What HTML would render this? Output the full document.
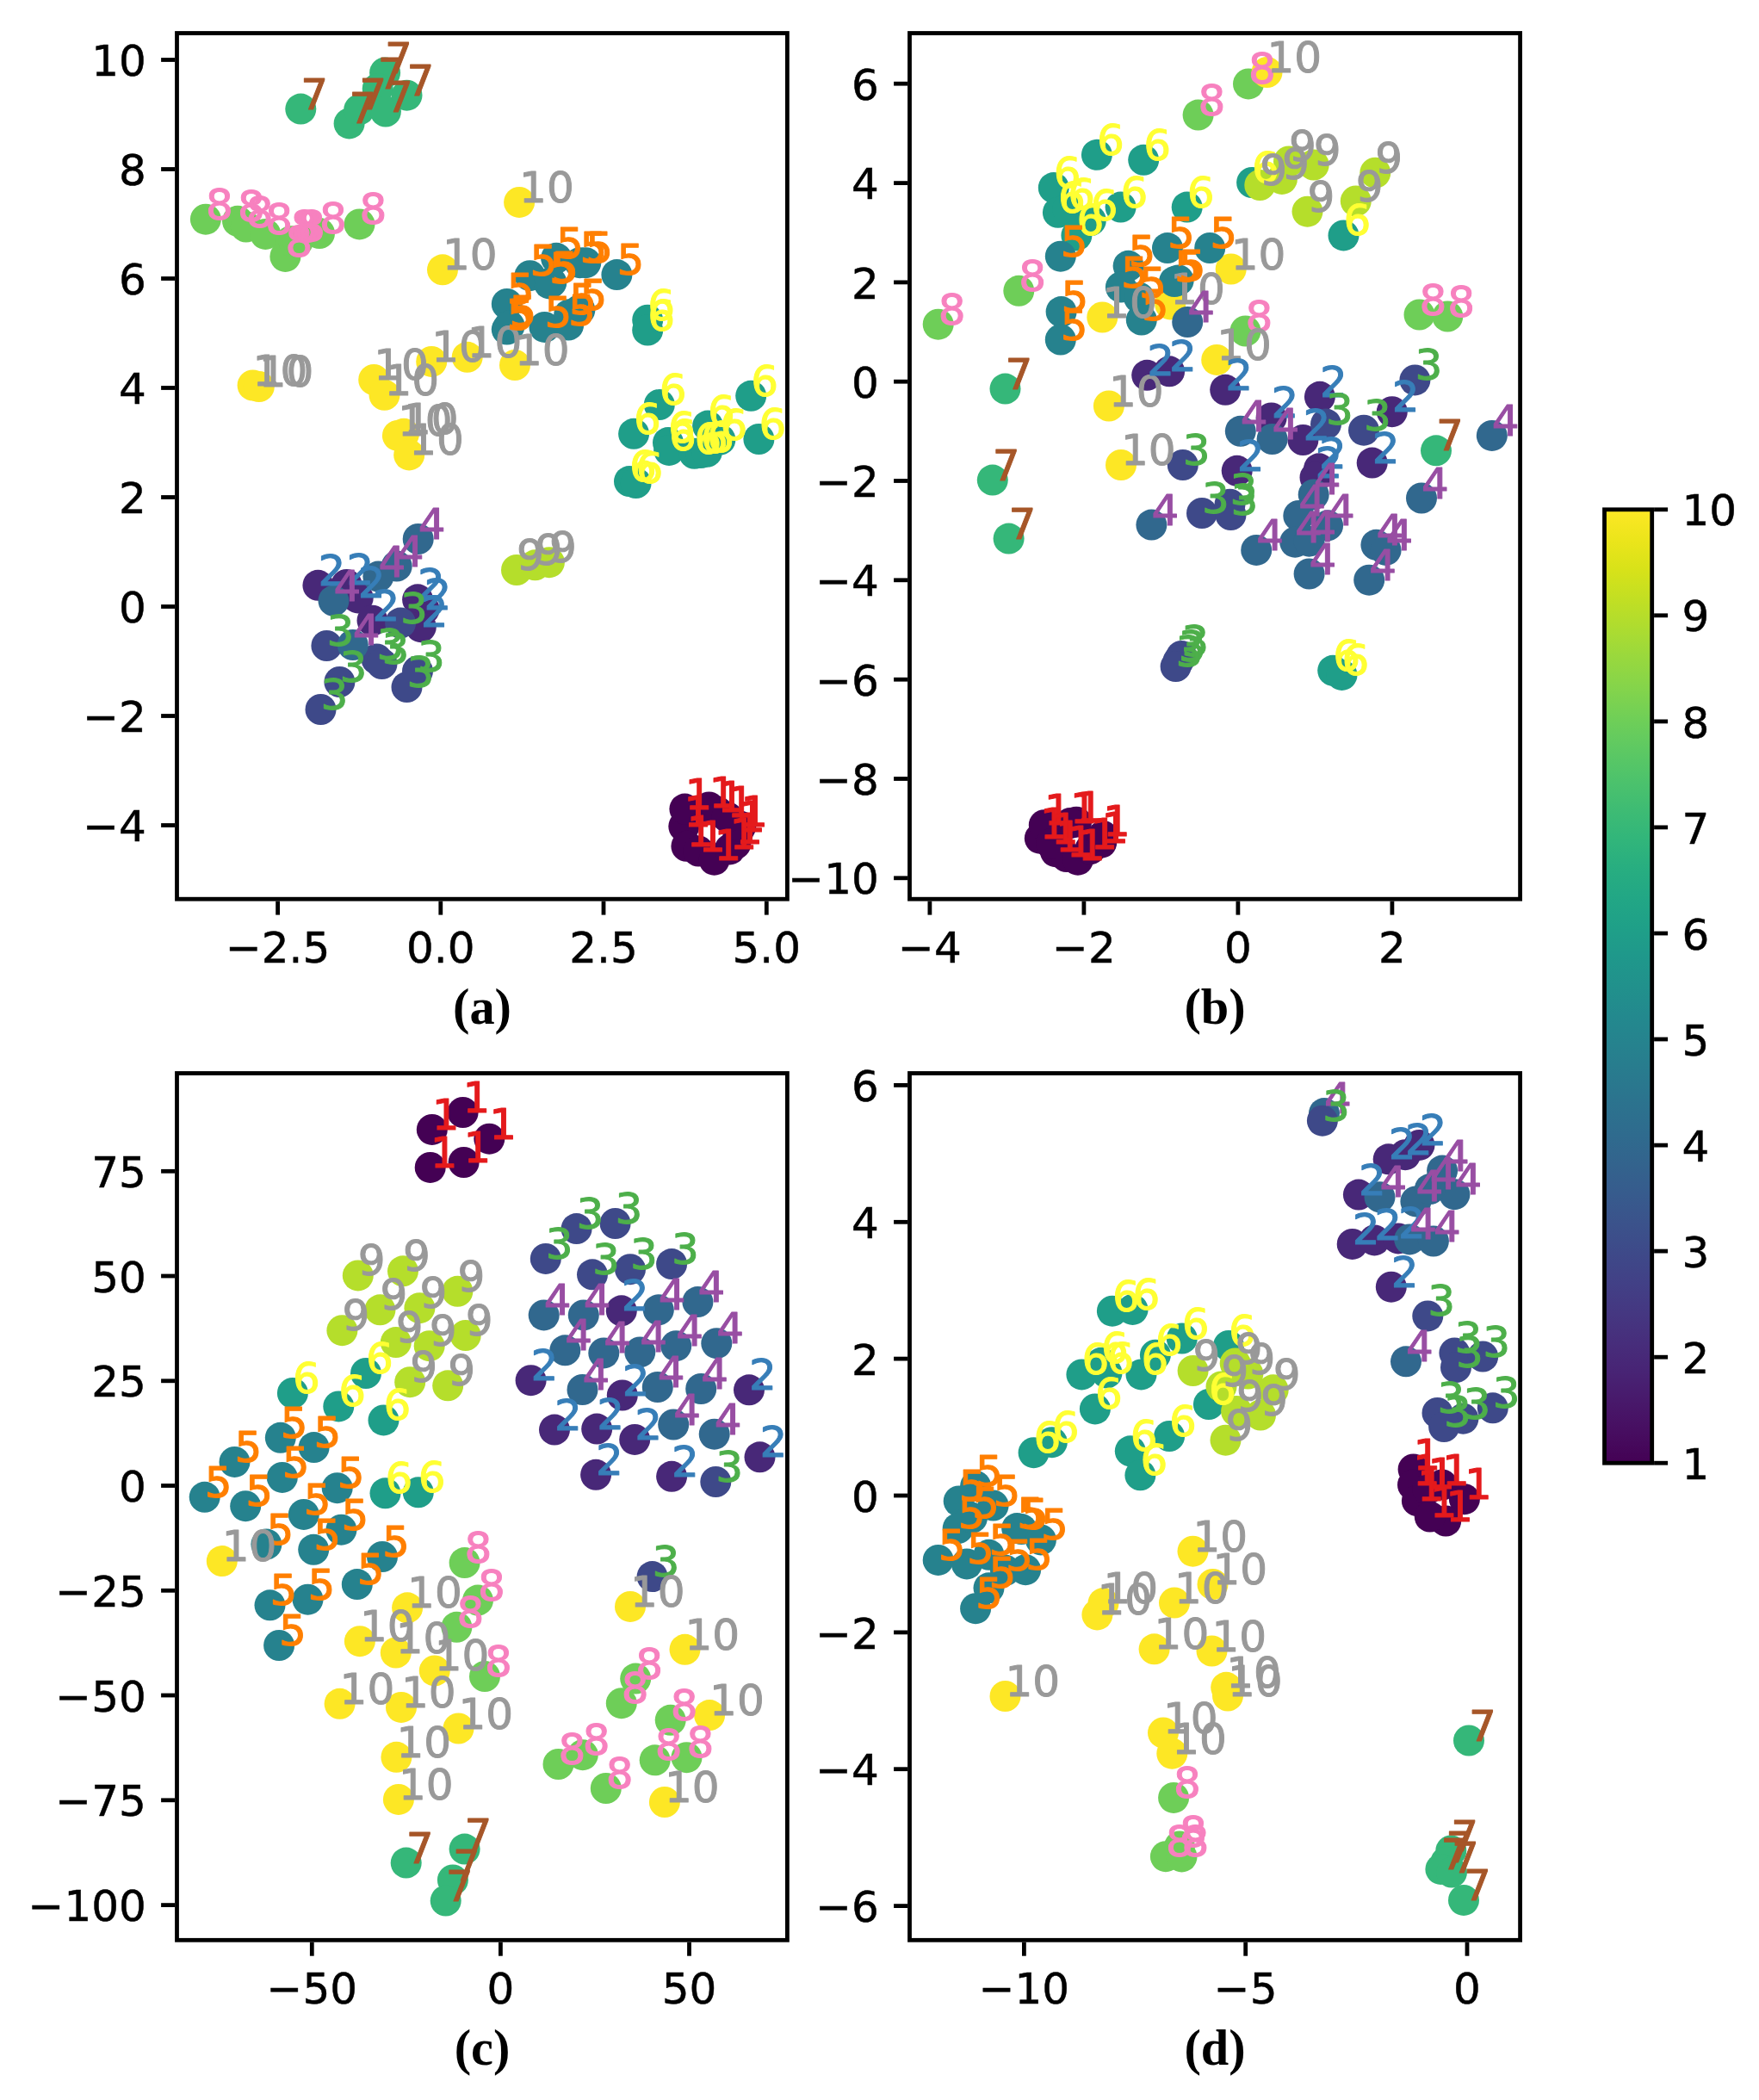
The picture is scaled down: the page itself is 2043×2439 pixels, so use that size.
<!DOCTYPE html>
<html><head><meta charset="utf-8"><title>t-SNE scatter panels</title>
<style>html,body{margin:0;padding:0;background:#fff}svg{display:block}</style></head><body>
<svg width="2043" height="2439" viewBox="0 0 2043 2439">
<rect width="2043" height="2439" fill="#fff"/>
<defs><linearGradient id="vg" x1="0" y1="0" x2="0" y2="1"><stop offset="0.0000" stop-color="#fde725"/><stop offset="0.0312" stop-color="#ece51b"/><stop offset="0.0625" stop-color="#d8e219"/><stop offset="0.0938" stop-color="#c2df23"/><stop offset="0.1250" stop-color="#addc30"/><stop offset="0.1562" stop-color="#98d83e"/><stop offset="0.1875" stop-color="#84d44b"/><stop offset="0.2188" stop-color="#70cf57"/><stop offset="0.2500" stop-color="#5ec962"/><stop offset="0.2812" stop-color="#4ec36b"/><stop offset="0.3125" stop-color="#3fbc73"/><stop offset="0.3438" stop-color="#32b67a"/><stop offset="0.3750" stop-color="#28ae80"/><stop offset="0.4062" stop-color="#22a785"/><stop offset="0.4375" stop-color="#1fa088"/><stop offset="0.4688" stop-color="#1f988b"/><stop offset="0.5000" stop-color="#21918c"/><stop offset="0.5312" stop-color="#23898e"/><stop offset="0.5625" stop-color="#26828e"/><stop offset="0.5938" stop-color="#297a8e"/><stop offset="0.6250" stop-color="#2c728e"/><stop offset="0.6562" stop-color="#2f6b8e"/><stop offset="0.6875" stop-color="#33638d"/><stop offset="0.7188" stop-color="#375b8d"/><stop offset="0.7500" stop-color="#3b528b"/><stop offset="0.7812" stop-color="#3e4989"/><stop offset="0.8125" stop-color="#424086"/><stop offset="0.8438" stop-color="#453781"/><stop offset="0.8750" stop-color="#472d7b"/><stop offset="0.9062" stop-color="#482374"/><stop offset="0.9375" stop-color="#48186a"/><stop offset="0.9688" stop-color="#470d60"/><stop offset="1.0000" stop-color="#440154"/></linearGradient></defs>
<g>
<circle cx="349.3" cy="126.6" r="18" fill="#35b779"/>
<circle cx="405.6" cy="143.4" r="18" fill="#35b779"/>
<circle cx="417.2" cy="127.4" r="18" fill="#35b779"/>
<circle cx="447.1" cy="84.5" r="18" fill="#35b779"/>
<circle cx="438.7" cy="102.9" r="18" fill="#35b779"/>
<circle cx="447.9" cy="129.5" r="18" fill="#35b779"/>
<circle cx="472.5" cy="110.7" r="18" fill="#35b779"/>
<circle cx="238.9" cy="254.7" r="18" fill="#6ece58"/>
<circle cx="276" cy="256.8" r="18" fill="#6ece58"/>
<circle cx="285.8" cy="263.5" r="18" fill="#6ece58"/>
<circle cx="308.3" cy="271.9" r="18" fill="#6ece58"/>
<circle cx="331.4" cy="297.9" r="18" fill="#6ece58"/>
<circle cx="337.8" cy="280.2" r="18" fill="#6ece58"/>
<circle cx="341.5" cy="280.5" r="18" fill="#6ece58"/>
<circle cx="346" cy="280.2" r="18" fill="#6ece58"/>
<circle cx="371" cy="271" r="18" fill="#6ece58"/>
<circle cx="417.5" cy="260.4" r="18" fill="#6ece58"/>
<circle cx="514" cy="313.3" r="18" fill="#fde725"/>
<circle cx="603.1" cy="234.9" r="18" fill="#fde725"/>
<circle cx="293.6" cy="447.5" r="18" fill="#fde725"/>
<circle cx="300.8" cy="449" r="18" fill="#fde725"/>
<circle cx="434.2" cy="441" r="18" fill="#fde725"/>
<circle cx="446.5" cy="458.8" r="18" fill="#fde725"/>
<circle cx="501.2" cy="419.9" r="18" fill="#fde725"/>
<circle cx="542.7" cy="414.8" r="18" fill="#fde725"/>
<circle cx="461.9" cy="505.9" r="18" fill="#fde725"/>
<circle cx="469" cy="503.8" r="18" fill="#fde725"/>
<circle cx="475.2" cy="528.4" r="18" fill="#fde725"/>
<circle cx="598" cy="424" r="18" fill="#fde725"/>
<circle cx="716.4" cy="319.1" r="18" fill="#26828e"/>
<circle cx="673.4" cy="305.2" r="18" fill="#26828e"/>
<circle cx="680.3" cy="305.2" r="18" fill="#26828e"/>
<circle cx="646.1" cy="299.8" r="18" fill="#26828e"/>
<circle cx="615.4" cy="320.2" r="18" fill="#26828e"/>
<circle cx="638" cy="329.4" r="18" fill="#26828e"/>
<circle cx="640.3" cy="328" r="18" fill="#26828e"/>
<circle cx="588.8" cy="353" r="18" fill="#26828e"/>
<circle cx="588.8" cy="382.6" r="18" fill="#26828e"/>
<circle cx="591.6" cy="378.5" r="18" fill="#26828e"/>
<circle cx="632.5" cy="379.9" r="18" fill="#26828e"/>
<circle cx="661.2" cy="365.3" r="18" fill="#26828e"/>
<circle cx="660.1" cy="377.5" r="18" fill="#26828e"/>
<circle cx="673.4" cy="359.8" r="18" fill="#26828e"/>
<circle cx="752.2" cy="371.7" r="18" fill="#1f9e89"/>
<circle cx="752.2" cy="383.5" r="18" fill="#1f9e89"/>
<circle cx="765.8" cy="470" r="18" fill="#1f9e89"/>
<circle cx="736.1" cy="503.8" r="18" fill="#1f9e89"/>
<circle cx="872.2" cy="459.8" r="18" fill="#1f9e89"/>
<circle cx="881.4" cy="510" r="18" fill="#1f9e89"/>
<circle cx="731" cy="559.1" r="18" fill="#1f9e89"/>
<circle cx="738.6" cy="561.1" r="18" fill="#1f9e89"/>
<circle cx="776" cy="514.1" r="18" fill="#1f9e89"/>
<circle cx="777.1" cy="522.9" r="18" fill="#1f9e89"/>
<circle cx="822.1" cy="494.6" r="18" fill="#1f9e89"/>
<circle cx="806.5" cy="526.8" r="18" fill="#1f9e89"/>
<circle cx="814" cy="526" r="18" fill="#1f9e89"/>
<circle cx="821" cy="524.8" r="18" fill="#1f9e89"/>
<circle cx="836.4" cy="510.6" r="18" fill="#1f9e89"/>
<circle cx="600" cy="662" r="18" fill="#b5de2b"/>
<circle cx="621.5" cy="656.3" r="18" fill="#b5de2b"/>
<circle cx="637.9" cy="653.2" r="18" fill="#b5de2b"/>
<circle cx="369.4" cy="679.8" r="18" fill="#482878"/>
<circle cx="402.5" cy="679" r="18" fill="#482878"/>
<circle cx="415.7" cy="694.4" r="18" fill="#482878"/>
<circle cx="432.5" cy="720.7" r="18" fill="#482878"/>
<circle cx="485.1" cy="696.3" r="18" fill="#482878"/>
<circle cx="492.6" cy="707.6" r="18" fill="#482878"/>
<circle cx="488.8" cy="728.2" r="18" fill="#482878"/>
<circle cx="465.1" cy="723.6" r="18" fill="#3e4989"/>
<circle cx="379.4" cy="750" r="18" fill="#3e4989"/>
<circle cx="437.5" cy="765.5" r="18" fill="#3e4989"/>
<circle cx="443.5" cy="771" r="18" fill="#3e4989"/>
<circle cx="394.4" cy="792" r="18" fill="#3e4989"/>
<circle cx="372.5" cy="824" r="18" fill="#3e4989"/>
<circle cx="472.5" cy="798.1" r="18" fill="#3e4989"/>
<circle cx="485" cy="779.5" r="18" fill="#3e4989"/>
<circle cx="485.7" cy="626" r="18" fill="#31688e"/>
<circle cx="460.7" cy="657.5" r="18" fill="#31688e"/>
<circle cx="439.4" cy="669.6" r="18" fill="#31688e"/>
<circle cx="387.5" cy="697.8" r="18" fill="#31688e"/>
<circle cx="409.8" cy="749" r="18" fill="#31688e"/>
<circle cx="794.3" cy="959.8" r="18" fill="#440154"/>
<circle cx="797.4" cy="982.8" r="18" fill="#440154"/>
<circle cx="811.2" cy="988.5" r="18" fill="#440154"/>
<circle cx="829.6" cy="998.7" r="18" fill="#440154"/>
<circle cx="847.6" cy="986.4" r="18" fill="#440154"/>
<circle cx="854.2" cy="980.3" r="18" fill="#440154"/>
<circle cx="857.3" cy="966" r="18" fill="#440154"/>
<circle cx="860.3" cy="959.8" r="18" fill="#440154"/>
<circle cx="795.4" cy="939.6" r="18" fill="#440154"/>
<circle cx="823.5" cy="937.5" r="18" fill="#440154"/>
<circle cx="833.2" cy="942.6" r="18" fill="#440154"/>
<circle cx="844.5" cy="948.8" r="18" fill="#440154"/>
</g>
<g font-family='"DejaVu Sans", "Liberation Sans", sans-serif' font-size="50" stroke-width="1" stroke-linejoin="round">
<text x="349.3" y="126.6" fill="#a65628" stroke="#a65628">7</text>
<text x="405.6" y="143.4" fill="#a65628" stroke="#a65628">7</text>
<text x="417.2" y="127.4" fill="#a65628" stroke="#a65628">7</text>
<text x="447.1" y="84.5" fill="#a65628" stroke="#a65628">7</text>
<text x="438.7" y="102.9" fill="#a65628" stroke="#a65628">7</text>
<text x="447.9" y="129.5" fill="#a65628" stroke="#a65628">7</text>
<text x="472.5" y="110.7" fill="#a65628" stroke="#a65628">7</text>
<text x="238.9" y="254.7" fill="#f781bf" stroke="#f781bf">8</text>
<text x="276" y="256.8" fill="#f781bf" stroke="#f781bf">8</text>
<text x="285.8" y="263.5" fill="#f781bf" stroke="#f781bf">8</text>
<text x="308.3" y="271.9" fill="#f781bf" stroke="#f781bf">8</text>
<text x="331.4" y="297.9" fill="#f781bf" stroke="#f781bf">8</text>
<text x="337.8" y="280.2" fill="#f781bf" stroke="#f781bf">8</text>
<text x="341.5" y="280.5" fill="#f781bf" stroke="#f781bf">8</text>
<text x="346" y="280.2" fill="#f781bf" stroke="#f781bf">8</text>
<text x="371" y="271" fill="#f781bf" stroke="#f781bf">8</text>
<text x="417.5" y="260.4" fill="#f781bf" stroke="#f781bf">8</text>
<text x="514" y="313.3" fill="#999999" stroke="#999999">10</text>
<text x="603.1" y="234.9" fill="#999999" stroke="#999999">10</text>
<text x="293.6" y="447.5" fill="#999999" stroke="#999999">10</text>
<text x="300.8" y="449" fill="#999999" stroke="#999999">10</text>
<text x="434.2" y="441" fill="#999999" stroke="#999999">10</text>
<text x="446.5" y="458.8" fill="#999999" stroke="#999999">10</text>
<text x="501.2" y="419.9" fill="#999999" stroke="#999999">10</text>
<text x="542.7" y="414.8" fill="#999999" stroke="#999999">10</text>
<text x="461.9" y="505.9" fill="#999999" stroke="#999999">10</text>
<text x="469" y="503.8" fill="#999999" stroke="#999999">10</text>
<text x="475.2" y="528.4" fill="#999999" stroke="#999999">10</text>
<text x="598" y="424" fill="#999999" stroke="#999999">10</text>
<text x="716.4" y="319.1" fill="#ff7f00" stroke="#ff7f00">5</text>
<text x="673.4" y="305.2" fill="#ff7f00" stroke="#ff7f00">5</text>
<text x="680.3" y="305.2" fill="#ff7f00" stroke="#ff7f00">5</text>
<text x="646.1" y="299.8" fill="#ff7f00" stroke="#ff7f00">5</text>
<text x="615.4" y="320.2" fill="#ff7f00" stroke="#ff7f00">5</text>
<text x="638" y="329.4" fill="#ff7f00" stroke="#ff7f00">5</text>
<text x="640.3" y="328" fill="#ff7f00" stroke="#ff7f00">5</text>
<text x="588.8" y="353" fill="#ff7f00" stroke="#ff7f00">5</text>
<text x="588.8" y="382.6" fill="#ff7f00" stroke="#ff7f00">5</text>
<text x="591.6" y="378.5" fill="#ff7f00" stroke="#ff7f00">5</text>
<text x="632.5" y="379.9" fill="#ff7f00" stroke="#ff7f00">5</text>
<text x="661.2" y="365.3" fill="#ff7f00" stroke="#ff7f00">5</text>
<text x="660.1" y="377.5" fill="#ff7f00" stroke="#ff7f00">5</text>
<text x="673.4" y="359.8" fill="#ff7f00" stroke="#ff7f00">5</text>
<text x="752.2" y="371.7" fill="#ffff33" stroke="#ffff33">6</text>
<text x="752.2" y="383.5" fill="#ffff33" stroke="#ffff33">6</text>
<text x="765.8" y="470" fill="#ffff33" stroke="#ffff33">6</text>
<text x="736.1" y="503.8" fill="#ffff33" stroke="#ffff33">6</text>
<text x="872.2" y="459.8" fill="#ffff33" stroke="#ffff33">6</text>
<text x="881.4" y="510" fill="#ffff33" stroke="#ffff33">6</text>
<text x="731" y="559.1" fill="#ffff33" stroke="#ffff33">6</text>
<text x="738.6" y="561.1" fill="#ffff33" stroke="#ffff33">6</text>
<text x="776" y="514.1" fill="#ffff33" stroke="#ffff33">6</text>
<text x="777.1" y="522.9" fill="#ffff33" stroke="#ffff33">6</text>
<text x="822.1" y="494.6" fill="#ffff33" stroke="#ffff33">6</text>
<text x="806.5" y="526.8" fill="#ffff33" stroke="#ffff33">6</text>
<text x="814" y="526" fill="#ffff33" stroke="#ffff33">6</text>
<text x="821" y="524.8" fill="#ffff33" stroke="#ffff33">6</text>
<text x="836.4" y="510.6" fill="#ffff33" stroke="#ffff33">6</text>
<text x="600" y="662" fill="#999999" stroke="#999999">9</text>
<text x="621.5" y="656.3" fill="#999999" stroke="#999999">9</text>
<text x="637.9" y="653.2" fill="#999999" stroke="#999999">9</text>
<text x="369.4" y="679.8" fill="#377eb8" stroke="#377eb8">2</text>
<text x="402.5" y="679" fill="#377eb8" stroke="#377eb8">2</text>
<text x="415.7" y="694.4" fill="#377eb8" stroke="#377eb8">2</text>
<text x="432.5" y="720.7" fill="#377eb8" stroke="#377eb8">2</text>
<text x="485.1" y="696.3" fill="#377eb8" stroke="#377eb8">2</text>
<text x="492.6" y="707.6" fill="#377eb8" stroke="#377eb8">2</text>
<text x="488.8" y="728.2" fill="#377eb8" stroke="#377eb8">2</text>
<text x="465.1" y="723.6" fill="#4daf4a" stroke="#4daf4a">3</text>
<text x="379.4" y="750" fill="#4daf4a" stroke="#4daf4a">3</text>
<text x="437.5" y="765.5" fill="#4daf4a" stroke="#4daf4a">3</text>
<text x="443.5" y="771" fill="#4daf4a" stroke="#4daf4a">3</text>
<text x="394.4" y="792" fill="#4daf4a" stroke="#4daf4a">3</text>
<text x="372.5" y="824" fill="#4daf4a" stroke="#4daf4a">3</text>
<text x="472.5" y="798.1" fill="#4daf4a" stroke="#4daf4a">3</text>
<text x="485" y="779.5" fill="#4daf4a" stroke="#4daf4a">3</text>
<text x="485.7" y="626" fill="#984ea3" stroke="#984ea3">4</text>
<text x="460.7" y="657.5" fill="#984ea3" stroke="#984ea3">4</text>
<text x="439.4" y="669.6" fill="#984ea3" stroke="#984ea3">4</text>
<text x="387.5" y="697.8" fill="#984ea3" stroke="#984ea3">4</text>
<text x="409.8" y="749" fill="#984ea3" stroke="#984ea3">4</text>
<text x="794.3" y="959.8" fill="#e41a1c" stroke="#e41a1c">1</text>
<text x="797.4" y="982.8" fill="#e41a1c" stroke="#e41a1c">1</text>
<text x="811.2" y="988.5" fill="#e41a1c" stroke="#e41a1c">1</text>
<text x="829.6" y="998.7" fill="#e41a1c" stroke="#e41a1c">1</text>
<text x="847.6" y="986.4" fill="#e41a1c" stroke="#e41a1c">1</text>
<text x="854.2" y="980.3" fill="#e41a1c" stroke="#e41a1c">1</text>
<text x="857.3" y="966" fill="#e41a1c" stroke="#e41a1c">1</text>
<text x="860.3" y="959.8" fill="#e41a1c" stroke="#e41a1c">1</text>
<text x="795.4" y="939.6" fill="#e41a1c" stroke="#e41a1c">1</text>
<text x="823.5" y="937.5" fill="#e41a1c" stroke="#e41a1c">1</text>
<text x="833.2" y="942.6" fill="#e41a1c" stroke="#e41a1c">1</text>
<text x="844.5" y="948.8" fill="#e41a1c" stroke="#e41a1c">1</text>
</g>
<rect x="205.5" y="38.5" width="708.9" height="1005.7" fill="none" stroke="#000" stroke-width="4.8"/>
<g stroke="#000" stroke-width="4.8">
<line x1="322.6" y1="1046.6" x2="322.6" y2="1062.6"/>
<line x1="511.8" y1="1046.6" x2="511.8" y2="1062.6"/>
<line x1="701" y1="1046.6" x2="701" y2="1062.6"/>
<line x1="890.3" y1="1046.6" x2="890.3" y2="1062.6"/>
<line x1="187.1" y1="69.5" x2="203.1" y2="69.5"/>
<line x1="187.1" y1="196.5" x2="203.1" y2="196.5"/>
<line x1="187.1" y1="323.5" x2="203.1" y2="323.5"/>
<line x1="187.1" y1="450.5" x2="203.1" y2="450.5"/>
<line x1="187.1" y1="577.5" x2="203.1" y2="577.5"/>
<line x1="187.1" y1="704.5" x2="203.1" y2="704.5"/>
<line x1="187.1" y1="831.5" x2="203.1" y2="831.5"/>
<line x1="187.1" y1="958.5" x2="203.1" y2="958.5"/>
</g>
<g font-family='"DejaVu Sans", "Liberation Sans", sans-serif' font-size="50" fill="#000" stroke="#000" stroke-width="0.5">
<text x="322.6" y="1117.5" text-anchor="middle">−2.5</text>
<text x="511.8" y="1117.5" text-anchor="middle">0.0</text>
<text x="701" y="1117.5" text-anchor="middle">2.5</text>
<text x="890.3" y="1117.5" text-anchor="middle">5.0</text>
<text x="169.9" y="88.1" text-anchor="end">10</text>
<text x="169.9" y="215.1" text-anchor="end">8</text>
<text x="169.9" y="342.1" text-anchor="end">6</text>
<text x="169.9" y="469.1" text-anchor="end">4</text>
<text x="169.9" y="596.1" text-anchor="end">2</text>
<text x="169.9" y="723.1" text-anchor="end">0</text>
<text x="169.9" y="850.1" text-anchor="end">−2</text>
<text x="169.9" y="977.1" text-anchor="end">−4</text>
</g>
<text x="560" y="1188.5" text-anchor="middle" font-family='"Liberation Serif", "DejaVu Serif", serif' font-weight="bold" font-size="58.3">(a)</text>
<g>
<circle cx="1454.1" cy="212" r="18" fill="#1f9e89"/>
<circle cx="1560.5" cy="273.4" r="18" fill="#1f9e89"/>
<circle cx="1273.9" cy="179.8" r="18" fill="#1f9e89"/>
<circle cx="1328.2" cy="185.8" r="18" fill="#1f9e89"/>
<circle cx="1223.8" cy="218.1" r="18" fill="#1f9e89"/>
<circle cx="1228.9" cy="246.8" r="18" fill="#1f9e89"/>
<circle cx="1240.2" cy="242.7" r="18" fill="#1f9e89"/>
<circle cx="1266.8" cy="256" r="18" fill="#1f9e89"/>
<circle cx="1250.4" cy="273.4" r="18" fill="#1f9e89"/>
<circle cx="1301.6" cy="240.6" r="18" fill="#1f9e89"/>
<circle cx="1378.7" cy="240.6" r="18" fill="#1f9e89"/>
<circle cx="1548.2" cy="778.8" r="18" fill="#1f9e89"/>
<circle cx="1558.5" cy="783.9" r="18" fill="#1f9e89"/>
<circle cx="1089.7" cy="376.7" r="18" fill="#6ece58"/>
<circle cx="1183.3" cy="337.8" r="18" fill="#6ece58"/>
<circle cx="1391.6" cy="133.6" r="18" fill="#6ece58"/>
<circle cx="1450" cy="97.4" r="18" fill="#6ece58"/>
<circle cx="1648.5" cy="365.5" r="18" fill="#6ece58"/>
<circle cx="1681.3" cy="367.5" r="18" fill="#6ece58"/>
<circle cx="1446.5" cy="384.5" r="18" fill="#6ece58"/>
<circle cx="1471.5" cy="84" r="18" fill="#fde725"/>
<circle cx="1280.3" cy="368.5" r="18" fill="#fde725"/>
<circle cx="1359.2" cy="353.4" r="18" fill="#fde725"/>
<circle cx="1429.7" cy="312.5" r="18" fill="#fde725"/>
<circle cx="1413.2" cy="417.9" r="18" fill="#fde725"/>
<circle cx="1287.9" cy="471.5" r="18" fill="#fde725"/>
<circle cx="1302" cy="540" r="18" fill="#fde725"/>
<circle cx="1463.3" cy="215" r="18" fill="#b5de2b"/>
<circle cx="1488.9" cy="207.9" r="18" fill="#b5de2b"/>
<circle cx="1497" cy="187.4" r="18" fill="#b5de2b"/>
<circle cx="1525.7" cy="191.5" r="18" fill="#b5de2b"/>
<circle cx="1518.5" cy="245.7" r="18" fill="#b5de2b"/>
<circle cx="1574.8" cy="233.5" r="18" fill="#b5de2b"/>
<circle cx="1597.3" cy="200.7" r="18" fill="#b5de2b"/>
<circle cx="1231.8" cy="297.7" r="18" fill="#26828e"/>
<circle cx="1232.6" cy="362.1" r="18" fill="#26828e"/>
<circle cx="1231.8" cy="394.5" r="18" fill="#26828e"/>
<circle cx="1310.6" cy="308.8" r="18" fill="#26828e"/>
<circle cx="1301.9" cy="333.5" r="18" fill="#26828e"/>
<circle cx="1356" cy="288.1" r="18" fill="#26828e"/>
<circle cx="1405.2" cy="288" r="18" fill="#26828e"/>
<circle cx="1364" cy="327.1" r="18" fill="#26828e"/>
<circle cx="1368.7" cy="325.5" r="18" fill="#26828e"/>
<circle cx="1323" cy="345.7" r="18" fill="#26828e"/>
<circle cx="1325.8" cy="371.5" r="18" fill="#26828e"/>
<circle cx="1379.2" cy="374" r="18" fill="#31688e"/>
<circle cx="1167.5" cy="451.6" r="18" fill="#35b779"/>
<circle cx="1152.8" cy="557.6" r="18" fill="#35b779"/>
<circle cx="1171.6" cy="625.6" r="18" fill="#35b779"/>
<circle cx="1668" cy="523.3" r="18" fill="#35b779"/>
<circle cx="1332.2" cy="435.8" r="18" fill="#482878"/>
<circle cx="1358.1" cy="431.3" r="18" fill="#482878"/>
<circle cx="1423.2" cy="452.8" r="18" fill="#482878"/>
<circle cx="1476.6" cy="485.4" r="18" fill="#482878"/>
<circle cx="1532.9" cy="460.8" r="18" fill="#482878"/>
<circle cx="1513.4" cy="511" r="18" fill="#482878"/>
<circle cx="1616.8" cy="478.2" r="18" fill="#482878"/>
<circle cx="1436.7" cy="546.8" r="18" fill="#482878"/>
<circle cx="1532" cy="544.3" r="18" fill="#482878"/>
<circle cx="1527.5" cy="554.5" r="18" fill="#482878"/>
<circle cx="1593.7" cy="537.6" r="18" fill="#482878"/>
<circle cx="1373.8" cy="540" r="18" fill="#3e4989"/>
<circle cx="1396" cy="596" r="18" fill="#3e4989"/>
<circle cx="1643.4" cy="441.4" r="18" fill="#3e4989"/>
<circle cx="1540" cy="492.6" r="18" fill="#3e4989"/>
<circle cx="1584" cy="499.7" r="18" fill="#3e4989"/>
<circle cx="1428.5" cy="585.7" r="18" fill="#3e4989"/>
<circle cx="1429.5" cy="598" r="18" fill="#3e4989"/>
<circle cx="1372.2" cy="762" r="18" fill="#3e4989"/>
<circle cx="1368.7" cy="767.5" r="18" fill="#3e4989"/>
<circle cx="1365.6" cy="774.1" r="18" fill="#3e4989"/>
<circle cx="1337.4" cy="609.6" r="18" fill="#31688e"/>
<circle cx="1440.8" cy="500.8" r="18" fill="#31688e"/>
<circle cx="1477.6" cy="510" r="18" fill="#31688e"/>
<circle cx="1732.8" cy="505.9" r="18" fill="#31688e"/>
<circle cx="1651" cy="578.5" r="18" fill="#31688e"/>
<circle cx="1525.7" cy="574.4" r="18" fill="#31688e"/>
<circle cx="1508.3" cy="599" r="18" fill="#31688e"/>
<circle cx="1542.1" cy="610.3" r="18" fill="#31688e"/>
<circle cx="1504.2" cy="629.7" r="18" fill="#31688e"/>
<circle cx="1520.6" cy="628.7" r="18" fill="#31688e"/>
<circle cx="1459.2" cy="638.9" r="18" fill="#31688e"/>
<circle cx="1520.6" cy="666.5" r="18" fill="#31688e"/>
<circle cx="1598.4" cy="632.8" r="18" fill="#31688e"/>
<circle cx="1609.6" cy="638.9" r="18" fill="#31688e"/>
<circle cx="1590.2" cy="673.7" r="18" fill="#31688e"/>
<circle cx="1207.8" cy="973.7" r="18" fill="#440154"/>
<circle cx="1212.8" cy="958.2" r="18" fill="#440154"/>
<circle cx="1226" cy="989.2" r="18" fill="#440154"/>
<circle cx="1238.7" cy="995.1" r="18" fill="#440154"/>
<circle cx="1251.9" cy="998.7" r="18" fill="#440154"/>
<circle cx="1266.5" cy="986" r="18" fill="#440154"/>
<circle cx="1279.2" cy="978.7" r="18" fill="#440154"/>
<circle cx="1281" cy="971" r="18" fill="#440154"/>
<circle cx="1250.1" cy="954.7" r="18" fill="#440154"/>
<circle cx="1242.8" cy="956.1" r="18" fill="#440154"/>
<circle cx="1221" cy="980" r="18" fill="#440154"/>
</g>
<g font-family='"DejaVu Sans", "Liberation Sans", sans-serif' font-size="50" stroke-width="1" stroke-linejoin="round">
<text x="1454.1" y="212" fill="#ffff33" stroke="#ffff33">6</text>
<text x="1560.5" y="273.4" fill="#ffff33" stroke="#ffff33">6</text>
<text x="1273.9" y="179.8" fill="#ffff33" stroke="#ffff33">6</text>
<text x="1328.2" y="185.8" fill="#ffff33" stroke="#ffff33">6</text>
<text x="1223.8" y="218.1" fill="#ffff33" stroke="#ffff33">6</text>
<text x="1228.9" y="246.8" fill="#ffff33" stroke="#ffff33">6</text>
<text x="1240.2" y="242.7" fill="#ffff33" stroke="#ffff33">6</text>
<text x="1266.8" y="256" fill="#ffff33" stroke="#ffff33">6</text>
<text x="1250.4" y="273.4" fill="#ffff33" stroke="#ffff33">6</text>
<text x="1301.6" y="240.6" fill="#ffff33" stroke="#ffff33">6</text>
<text x="1378.7" y="240.6" fill="#ffff33" stroke="#ffff33">6</text>
<text x="1548.2" y="778.8" fill="#ffff33" stroke="#ffff33">6</text>
<text x="1558.5" y="783.9" fill="#ffff33" stroke="#ffff33">6</text>
<text x="1089.7" y="376.7" fill="#f781bf" stroke="#f781bf">8</text>
<text x="1183.3" y="337.8" fill="#f781bf" stroke="#f781bf">8</text>
<text x="1391.6" y="133.6" fill="#f781bf" stroke="#f781bf">8</text>
<text x="1450" y="97.4" fill="#f781bf" stroke="#f781bf">8</text>
<text x="1648.5" y="365.5" fill="#f781bf" stroke="#f781bf">8</text>
<text x="1681.3" y="367.5" fill="#f781bf" stroke="#f781bf">8</text>
<text x="1446.5" y="384.5" fill="#f781bf" stroke="#f781bf">8</text>
<text x="1471.5" y="84" fill="#999999" stroke="#999999">10</text>
<text x="1359.2" y="353.4" fill="#999999" stroke="#999999">10</text>
<text x="1429.7" y="312.5" fill="#999999" stroke="#999999">10</text>
<text x="1413.2" y="417.9" fill="#999999" stroke="#999999">10</text>
<text x="1287.9" y="471.5" fill="#999999" stroke="#999999">10</text>
<text x="1302" y="540" fill="#999999" stroke="#999999">10</text>
<text x="1463.3" y="215" fill="#999999" stroke="#999999">9</text>
<text x="1488.9" y="207.9" fill="#999999" stroke="#999999">9</text>
<text x="1497" y="187.4" fill="#999999" stroke="#999999">9</text>
<text x="1525.7" y="191.5" fill="#999999" stroke="#999999">9</text>
<text x="1518.5" y="245.7" fill="#999999" stroke="#999999">9</text>
<text x="1574.8" y="233.5" fill="#999999" stroke="#999999">9</text>
<text x="1597.3" y="200.7" fill="#999999" stroke="#999999">9</text>
<text x="1231.8" y="297.7" fill="#ff7f00" stroke="#ff7f00">5</text>
<text x="1232.6" y="362.1" fill="#ff7f00" stroke="#ff7f00">5</text>
<text x="1231.8" y="394.5" fill="#ff7f00" stroke="#ff7f00">5</text>
<text x="1310.6" y="308.8" fill="#ff7f00" stroke="#ff7f00">5</text>
<text x="1301.9" y="333.5" fill="#ff7f00" stroke="#ff7f00">5</text>
<text x="1356" y="288.1" fill="#ff7f00" stroke="#ff7f00">5</text>
<text x="1405.2" y="288" fill="#ff7f00" stroke="#ff7f00">5</text>
<text x="1364" y="327.1" fill="#ff7f00" stroke="#ff7f00">5</text>
<text x="1368.7" y="325.5" fill="#ff7f00" stroke="#ff7f00">5</text>
<text x="1323" y="345.7" fill="#ff7f00" stroke="#ff7f00">5</text>
<text x="1325.8" y="371.5" fill="#ff7f00" stroke="#ff7f00">5</text>
<text x="1379.2" y="374" fill="#984ea3" stroke="#984ea3">4</text>
<text x="1167.5" y="451.6" fill="#a65628" stroke="#a65628">7</text>
<text x="1152.8" y="557.6" fill="#a65628" stroke="#a65628">7</text>
<text x="1171.6" y="625.6" fill="#a65628" stroke="#a65628">7</text>
<text x="1668" y="523.3" fill="#a65628" stroke="#a65628">7</text>
<text x="1332.2" y="435.8" fill="#377eb8" stroke="#377eb8">2</text>
<text x="1358.1" y="431.3" fill="#377eb8" stroke="#377eb8">2</text>
<text x="1423.2" y="452.8" fill="#377eb8" stroke="#377eb8">2</text>
<text x="1476.6" y="485.4" fill="#377eb8" stroke="#377eb8">2</text>
<text x="1532.9" y="460.8" fill="#377eb8" stroke="#377eb8">2</text>
<text x="1513.4" y="511" fill="#377eb8" stroke="#377eb8">2</text>
<text x="1616.8" y="478.2" fill="#377eb8" stroke="#377eb8">2</text>
<text x="1436.7" y="546.8" fill="#377eb8" stroke="#377eb8">2</text>
<text x="1532" y="544.3" fill="#377eb8" stroke="#377eb8">2</text>
<text x="1527.5" y="554.5" fill="#377eb8" stroke="#377eb8">2</text>
<text x="1593.7" y="537.6" fill="#377eb8" stroke="#377eb8">2</text>
<text x="1373.8" y="540" fill="#4daf4a" stroke="#4daf4a">3</text>
<text x="1396" y="596" fill="#4daf4a" stroke="#4daf4a">3</text>
<text x="1643.4" y="441.4" fill="#4daf4a" stroke="#4daf4a">3</text>
<text x="1540" y="492.6" fill="#4daf4a" stroke="#4daf4a">3</text>
<text x="1584" y="499.7" fill="#4daf4a" stroke="#4daf4a">3</text>
<text x="1428.5" y="585.7" fill="#4daf4a" stroke="#4daf4a">3</text>
<text x="1429.5" y="598" fill="#4daf4a" stroke="#4daf4a">3</text>
<text x="1372.2" y="762" fill="#4daf4a" stroke="#4daf4a">3</text>
<text x="1368.7" y="767.5" fill="#4daf4a" stroke="#4daf4a">3</text>
<text x="1365.6" y="774.1" fill="#4daf4a" stroke="#4daf4a">3</text>
<text x="1337.4" y="609.6" fill="#984ea3" stroke="#984ea3">4</text>
<text x="1440.8" y="500.8" fill="#984ea3" stroke="#984ea3">4</text>
<text x="1477.6" y="510" fill="#984ea3" stroke="#984ea3">4</text>
<text x="1732.8" y="505.9" fill="#984ea3" stroke="#984ea3">4</text>
<text x="1651" y="578.5" fill="#984ea3" stroke="#984ea3">4</text>
<text x="1525.7" y="574.4" fill="#984ea3" stroke="#984ea3">4</text>
<text x="1508.3" y="599" fill="#984ea3" stroke="#984ea3">4</text>
<text x="1542.1" y="610.3" fill="#984ea3" stroke="#984ea3">4</text>
<text x="1504.2" y="629.7" fill="#984ea3" stroke="#984ea3">4</text>
<text x="1520.6" y="628.7" fill="#984ea3" stroke="#984ea3">4</text>
<text x="1459.2" y="638.9" fill="#984ea3" stroke="#984ea3">4</text>
<text x="1520.6" y="666.5" fill="#984ea3" stroke="#984ea3">4</text>
<text x="1598.4" y="632.8" fill="#984ea3" stroke="#984ea3">4</text>
<text x="1609.6" y="638.9" fill="#984ea3" stroke="#984ea3">4</text>
<text x="1590.2" y="673.7" fill="#984ea3" stroke="#984ea3">4</text>
<text x="1207.8" y="973.7" fill="#e41a1c" stroke="#e41a1c">1</text>
<text x="1212.8" y="958.2" fill="#e41a1c" stroke="#e41a1c">1</text>
<text x="1226" y="989.2" fill="#e41a1c" stroke="#e41a1c">1</text>
<text x="1238.7" y="995.1" fill="#e41a1c" stroke="#e41a1c">1</text>
<text x="1251.9" y="998.7" fill="#e41a1c" stroke="#e41a1c">1</text>
<text x="1266.5" y="986" fill="#e41a1c" stroke="#e41a1c">1</text>
<text x="1279.2" y="978.7" fill="#e41a1c" stroke="#e41a1c">1</text>
<text x="1281" y="971" fill="#e41a1c" stroke="#e41a1c">1</text>
<text x="1250.1" y="954.7" fill="#e41a1c" stroke="#e41a1c">1</text>
<text x="1242.8" y="956.1" fill="#e41a1c" stroke="#e41a1c">1</text>
<text x="1221" y="980" fill="#e41a1c" stroke="#e41a1c">1</text>
<text x="1280.3" y="368.5" fill="#999999" stroke="#999999">10</text>
</g>
<rect x="1056.5" y="38.5" width="709.1" height="1005.7" fill="none" stroke="#000" stroke-width="4.8"/>
<g stroke="#000" stroke-width="4.8">
<line x1="1079.9" y1="1046.6" x2="1079.9" y2="1062.6"/>
<line x1="1258.9" y1="1046.6" x2="1258.9" y2="1062.6"/>
<line x1="1437.9" y1="1046.6" x2="1437.9" y2="1062.6"/>
<line x1="1616.9" y1="1046.6" x2="1616.9" y2="1062.6"/>
<line x1="1038.1" y1="97.2" x2="1054.1" y2="97.2"/>
<line x1="1038.1" y1="212.6" x2="1054.1" y2="212.6"/>
<line x1="1038.1" y1="327.9" x2="1054.1" y2="327.9"/>
<line x1="1038.1" y1="443.2" x2="1054.1" y2="443.2"/>
<line x1="1038.1" y1="558.5" x2="1054.1" y2="558.5"/>
<line x1="1038.1" y1="673.8" x2="1054.1" y2="673.8"/>
<line x1="1038.1" y1="789.2" x2="1054.1" y2="789.2"/>
<line x1="1038.1" y1="904.5" x2="1054.1" y2="904.5"/>
<line x1="1038.1" y1="1019.8" x2="1054.1" y2="1019.8"/>
</g>
<g font-family='"DejaVu Sans", "Liberation Sans", sans-serif' font-size="50" fill="#000" stroke="#000" stroke-width="0.5">
<text x="1079.9" y="1117.5" text-anchor="middle">−4</text>
<text x="1258.9" y="1117.5" text-anchor="middle">−2</text>
<text x="1437.9" y="1117.5" text-anchor="middle">0</text>
<text x="1616.9" y="1117.5" text-anchor="middle">2</text>
<text x="1020.9" y="115.8" text-anchor="end">6</text>
<text x="1020.9" y="231.2" text-anchor="end">4</text>
<text x="1020.9" y="346.5" text-anchor="end">2</text>
<text x="1020.9" y="461.8" text-anchor="end">0</text>
<text x="1020.9" y="577.1" text-anchor="end">−2</text>
<text x="1020.9" y="692.4" text-anchor="end">−4</text>
<text x="1020.9" y="807.8" text-anchor="end">−6</text>
<text x="1020.9" y="923.1" text-anchor="end">−8</text>
<text x="1020.9" y="1038.4" text-anchor="end">−10</text>
</g>
<text x="1411" y="1188.5" text-anchor="middle" font-family='"Liberation Serif", "DejaVu Serif", serif' font-weight="bold" font-size="58.3">(b)</text>
<g>
<circle cx="501.8" cy="1311.9" r="18" fill="#440154"/>
<circle cx="537.6" cy="1292" r="18" fill="#440154"/>
<circle cx="499.7" cy="1355.9" r="18" fill="#440154"/>
<circle cx="538.6" cy="1350" r="18" fill="#440154"/>
<circle cx="568.3" cy="1322.7" r="18" fill="#440154"/>
<circle cx="415.8" cy="1481.4" r="18" fill="#b5de2b"/>
<circle cx="468" cy="1476.3" r="18" fill="#b5de2b"/>
<circle cx="531.4" cy="1499.8" r="18" fill="#b5de2b"/>
<circle cx="441.4" cy="1521.3" r="18" fill="#b5de2b"/>
<circle cx="487.4" cy="1519.2" r="18" fill="#b5de2b"/>
<circle cx="397.4" cy="1545.2" r="18" fill="#b5de2b"/>
<circle cx="459.8" cy="1559.1" r="18" fill="#b5de2b"/>
<circle cx="498.7" cy="1563.2" r="18" fill="#b5de2b"/>
<circle cx="540.7" cy="1551" r="18" fill="#b5de2b"/>
<circle cx="476.2" cy="1605.2" r="18" fill="#b5de2b"/>
<circle cx="520.2" cy="1609.3" r="18" fill="#b5de2b"/>
<circle cx="425" cy="1595" r="18" fill="#1f9e89"/>
<circle cx="339.9" cy="1618" r="18" fill="#1f9e89"/>
<circle cx="393.3" cy="1633.4" r="18" fill="#1f9e89"/>
<circle cx="445.5" cy="1649.4" r="18" fill="#1f9e89"/>
<circle cx="447.5" cy="1734.3" r="18" fill="#1f9e89"/>
<circle cx="485.8" cy="1733.3" r="18" fill="#1f9e89"/>
<circle cx="669.6" cy="1427.1" r="18" fill="#3e4989"/>
<circle cx="714.6" cy="1421" r="18" fill="#3e4989"/>
<circle cx="633.8" cy="1461.9" r="18" fill="#3e4989"/>
<circle cx="688" cy="1480.3" r="18" fill="#3e4989"/>
<circle cx="732" cy="1474.2" r="18" fill="#3e4989"/>
<circle cx="780.1" cy="1468.1" r="18" fill="#3e4989"/>
<circle cx="831.3" cy="1721" r="18" fill="#3e4989"/>
<circle cx="757.6" cy="1831.1" r="18" fill="#3e4989"/>
<circle cx="631.7" cy="1527.4" r="18" fill="#31688e"/>
<circle cx="677.8" cy="1527.4" r="18" fill="#31688e"/>
<circle cx="764.8" cy="1521.3" r="18" fill="#31688e"/>
<circle cx="810.4" cy="1512.1" r="18" fill="#31688e"/>
<circle cx="656.3" cy="1568.3" r="18" fill="#31688e"/>
<circle cx="701.3" cy="1571.4" r="18" fill="#31688e"/>
<circle cx="743.3" cy="1570.4" r="18" fill="#31688e"/>
<circle cx="785.2" cy="1563.2" r="18" fill="#31688e"/>
<circle cx="832.3" cy="1560.2" r="18" fill="#31688e"/>
<circle cx="676.5" cy="1614" r="18" fill="#31688e"/>
<circle cx="763.8" cy="1611" r="18" fill="#31688e"/>
<circle cx="814.2" cy="1613" r="18" fill="#31688e"/>
<circle cx="782.2" cy="1654.5" r="18" fill="#31688e"/>
<circle cx="829.7" cy="1665.7" r="18" fill="#31688e"/>
<circle cx="721.8" cy="1522.3" r="18" fill="#482878"/>
<circle cx="616.6" cy="1603.2" r="18" fill="#482878"/>
<circle cx="870" cy="1614.3" r="18" fill="#482878"/>
<circle cx="722.8" cy="1620.5" r="18" fill="#482878"/>
<circle cx="644" cy="1660.6" r="18" fill="#482878"/>
<circle cx="693.2" cy="1659.6" r="18" fill="#482878"/>
<circle cx="737.2" cy="1671.9" r="18" fill="#482878"/>
<circle cx="692.1" cy="1712.8" r="18" fill="#482878"/>
<circle cx="780.1" cy="1714.8" r="18" fill="#482878"/>
<circle cx="882.5" cy="1692.3" r="18" fill="#482878"/>
<circle cx="325.8" cy="1669.8" r="18" fill="#26828e"/>
<circle cx="364.6" cy="1681.1" r="18" fill="#26828e"/>
<circle cx="272.5" cy="1697.9" r="18" fill="#26828e"/>
<circle cx="327.8" cy="1715.9" r="18" fill="#26828e"/>
<circle cx="237.7" cy="1738.8" r="18" fill="#26828e"/>
<circle cx="285.2" cy="1749.2" r="18" fill="#26828e"/>
<circle cx="391.7" cy="1728.2" r="18" fill="#26828e"/>
<circle cx="352.8" cy="1758.9" r="18" fill="#26828e"/>
<circle cx="396.4" cy="1776.7" r="18" fill="#26828e"/>
<circle cx="309.4" cy="1793.6" r="18" fill="#26828e"/>
<circle cx="364.2" cy="1799.8" r="18" fill="#26828e"/>
<circle cx="444" cy="1808" r="18" fill="#26828e"/>
<circle cx="414.8" cy="1840.1" r="18" fill="#26828e"/>
<circle cx="313.5" cy="1864.3" r="18" fill="#26828e"/>
<circle cx="357.5" cy="1857.7" r="18" fill="#26828e"/>
<circle cx="324.1" cy="1911" r="18" fill="#26828e"/>
<circle cx="257.8" cy="1813.1" r="18" fill="#fde725"/>
<circle cx="473.1" cy="1867.3" r="18" fill="#fde725"/>
<circle cx="417.9" cy="1906.2" r="18" fill="#fde725"/>
<circle cx="459.8" cy="1919.5" r="18" fill="#fde725"/>
<circle cx="504.8" cy="1940.4" r="18" fill="#fde725"/>
<circle cx="394.6" cy="1978.8" r="18" fill="#fde725"/>
<circle cx="466" cy="1982.9" r="18" fill="#fde725"/>
<circle cx="532.5" cy="2007.5" r="18" fill="#fde725"/>
<circle cx="460.4" cy="2040.8" r="18" fill="#fde725"/>
<circle cx="462.9" cy="2089.9" r="18" fill="#fde725"/>
<circle cx="732" cy="1865.9" r="18" fill="#fde725"/>
<circle cx="795.5" cy="1915.8" r="18" fill="#fde725"/>
<circle cx="824.1" cy="1992.1" r="18" fill="#fde725"/>
<circle cx="771.9" cy="2093" r="18" fill="#fde725"/>
<circle cx="539.6" cy="1815.1" r="18" fill="#6ece58"/>
<circle cx="555" cy="1858.6" r="18" fill="#6ece58"/>
<circle cx="530.4" cy="1889.8" r="18" fill="#6ece58"/>
<circle cx="563" cy="1947" r="18" fill="#6ece58"/>
<circle cx="738.2" cy="1949.6" r="18" fill="#6ece58"/>
<circle cx="721.8" cy="1978.2" r="18" fill="#6ece58"/>
<circle cx="778.7" cy="1997.8" r="18" fill="#6ece58"/>
<circle cx="648.5" cy="2049" r="18" fill="#6ece58"/>
<circle cx="676.8" cy="2038.2" r="18" fill="#6ece58"/>
<circle cx="703.8" cy="2077" r="18" fill="#6ece58"/>
<circle cx="760.7" cy="2044.3" r="18" fill="#6ece58"/>
<circle cx="797.5" cy="2041.2" r="18" fill="#6ece58"/>
<circle cx="471.7" cy="2163.6" r="18" fill="#35b779"/>
<circle cx="539.6" cy="2147.6" r="18" fill="#35b779"/>
<circle cx="525.9" cy="2183.5" r="18" fill="#35b779"/>
<circle cx="517.7" cy="2207.6" r="18" fill="#35b779"/>
</g>
<g font-family='"DejaVu Sans", "Liberation Sans", sans-serif' font-size="50" stroke-width="1" stroke-linejoin="round">
<text x="501.8" y="1311.9" fill="#e41a1c" stroke="#e41a1c">1</text>
<text x="537.6" y="1292" fill="#e41a1c" stroke="#e41a1c">1</text>
<text x="499.7" y="1355.9" fill="#e41a1c" stroke="#e41a1c">1</text>
<text x="538.6" y="1350" fill="#e41a1c" stroke="#e41a1c">1</text>
<text x="568.3" y="1322.7" fill="#e41a1c" stroke="#e41a1c">1</text>
<text x="415.8" y="1481.4" fill="#999999" stroke="#999999">9</text>
<text x="468" y="1476.3" fill="#999999" stroke="#999999">9</text>
<text x="531.4" y="1499.8" fill="#999999" stroke="#999999">9</text>
<text x="441.4" y="1521.3" fill="#999999" stroke="#999999">9</text>
<text x="487.4" y="1519.2" fill="#999999" stroke="#999999">9</text>
<text x="397.4" y="1545.2" fill="#999999" stroke="#999999">9</text>
<text x="459.8" y="1559.1" fill="#999999" stroke="#999999">9</text>
<text x="498.7" y="1563.2" fill="#999999" stroke="#999999">9</text>
<text x="540.7" y="1551" fill="#999999" stroke="#999999">9</text>
<text x="476.2" y="1605.2" fill="#999999" stroke="#999999">9</text>
<text x="520.2" y="1609.3" fill="#999999" stroke="#999999">9</text>
<text x="425" y="1595" fill="#ffff33" stroke="#ffff33">6</text>
<text x="339.9" y="1618" fill="#ffff33" stroke="#ffff33">6</text>
<text x="393.3" y="1633.4" fill="#ffff33" stroke="#ffff33">6</text>
<text x="445.5" y="1649.4" fill="#ffff33" stroke="#ffff33">6</text>
<text x="447.5" y="1734.3" fill="#ffff33" stroke="#ffff33">6</text>
<text x="485.8" y="1733.3" fill="#ffff33" stroke="#ffff33">6</text>
<text x="669.6" y="1427.1" fill="#4daf4a" stroke="#4daf4a">3</text>
<text x="714.6" y="1421" fill="#4daf4a" stroke="#4daf4a">3</text>
<text x="633.8" y="1461.9" fill="#4daf4a" stroke="#4daf4a">3</text>
<text x="688" y="1480.3" fill="#4daf4a" stroke="#4daf4a">3</text>
<text x="732" y="1474.2" fill="#4daf4a" stroke="#4daf4a">3</text>
<text x="780.1" y="1468.1" fill="#4daf4a" stroke="#4daf4a">3</text>
<text x="831.3" y="1721" fill="#4daf4a" stroke="#4daf4a">3</text>
<text x="757.6" y="1831.1" fill="#4daf4a" stroke="#4daf4a">3</text>
<text x="631.7" y="1527.4" fill="#984ea3" stroke="#984ea3">4</text>
<text x="677.8" y="1527.4" fill="#984ea3" stroke="#984ea3">4</text>
<text x="764.8" y="1521.3" fill="#984ea3" stroke="#984ea3">4</text>
<text x="810.4" y="1512.1" fill="#984ea3" stroke="#984ea3">4</text>
<text x="656.3" y="1568.3" fill="#984ea3" stroke="#984ea3">4</text>
<text x="701.3" y="1571.4" fill="#984ea3" stroke="#984ea3">4</text>
<text x="743.3" y="1570.4" fill="#984ea3" stroke="#984ea3">4</text>
<text x="785.2" y="1563.2" fill="#984ea3" stroke="#984ea3">4</text>
<text x="832.3" y="1560.2" fill="#984ea3" stroke="#984ea3">4</text>
<text x="676.5" y="1614" fill="#984ea3" stroke="#984ea3">4</text>
<text x="763.8" y="1611" fill="#984ea3" stroke="#984ea3">4</text>
<text x="814.2" y="1613" fill="#984ea3" stroke="#984ea3">4</text>
<text x="782.2" y="1654.5" fill="#984ea3" stroke="#984ea3">4</text>
<text x="829.7" y="1665.7" fill="#984ea3" stroke="#984ea3">4</text>
<text x="721.8" y="1522.3" fill="#377eb8" stroke="#377eb8">2</text>
<text x="616.6" y="1603.2" fill="#377eb8" stroke="#377eb8">2</text>
<text x="870" y="1614.3" fill="#377eb8" stroke="#377eb8">2</text>
<text x="722.8" y="1620.5" fill="#377eb8" stroke="#377eb8">2</text>
<text x="644" y="1660.6" fill="#377eb8" stroke="#377eb8">2</text>
<text x="693.2" y="1659.6" fill="#377eb8" stroke="#377eb8">2</text>
<text x="737.2" y="1671.9" fill="#377eb8" stroke="#377eb8">2</text>
<text x="692.1" y="1712.8" fill="#377eb8" stroke="#377eb8">2</text>
<text x="780.1" y="1714.8" fill="#377eb8" stroke="#377eb8">2</text>
<text x="882.5" y="1692.3" fill="#377eb8" stroke="#377eb8">2</text>
<text x="325.8" y="1669.8" fill="#ff7f00" stroke="#ff7f00">5</text>
<text x="364.6" y="1681.1" fill="#ff7f00" stroke="#ff7f00">5</text>
<text x="272.5" y="1697.9" fill="#ff7f00" stroke="#ff7f00">5</text>
<text x="327.8" y="1715.9" fill="#ff7f00" stroke="#ff7f00">5</text>
<text x="237.7" y="1738.8" fill="#ff7f00" stroke="#ff7f00">5</text>
<text x="285.2" y="1749.2" fill="#ff7f00" stroke="#ff7f00">5</text>
<text x="391.7" y="1728.2" fill="#ff7f00" stroke="#ff7f00">5</text>
<text x="352.8" y="1758.9" fill="#ff7f00" stroke="#ff7f00">5</text>
<text x="396.4" y="1776.7" fill="#ff7f00" stroke="#ff7f00">5</text>
<text x="309.4" y="1793.6" fill="#ff7f00" stroke="#ff7f00">5</text>
<text x="364.2" y="1799.8" fill="#ff7f00" stroke="#ff7f00">5</text>
<text x="444" y="1808" fill="#ff7f00" stroke="#ff7f00">5</text>
<text x="414.8" y="1840.1" fill="#ff7f00" stroke="#ff7f00">5</text>
<text x="313.5" y="1864.3" fill="#ff7f00" stroke="#ff7f00">5</text>
<text x="357.5" y="1857.7" fill="#ff7f00" stroke="#ff7f00">5</text>
<text x="324.1" y="1911" fill="#ff7f00" stroke="#ff7f00">5</text>
<text x="257.8" y="1813.1" fill="#999999" stroke="#999999">10</text>
<text x="473.1" y="1867.3" fill="#999999" stroke="#999999">10</text>
<text x="417.9" y="1906.2" fill="#999999" stroke="#999999">10</text>
<text x="459.8" y="1919.5" fill="#999999" stroke="#999999">10</text>
<text x="504.8" y="1940.4" fill="#999999" stroke="#999999">10</text>
<text x="394.6" y="1978.8" fill="#999999" stroke="#999999">10</text>
<text x="466" y="1982.9" fill="#999999" stroke="#999999">10</text>
<text x="532.5" y="2007.5" fill="#999999" stroke="#999999">10</text>
<text x="460.4" y="2040.8" fill="#999999" stroke="#999999">10</text>
<text x="462.9" y="2089.9" fill="#999999" stroke="#999999">10</text>
<text x="732" y="1865.9" fill="#999999" stroke="#999999">10</text>
<text x="795.5" y="1915.8" fill="#999999" stroke="#999999">10</text>
<text x="824.1" y="1992.1" fill="#999999" stroke="#999999">10</text>
<text x="771.9" y="2093" fill="#999999" stroke="#999999">10</text>
<text x="539.6" y="1815.1" fill="#f781bf" stroke="#f781bf">8</text>
<text x="555" y="1858.6" fill="#f781bf" stroke="#f781bf">8</text>
<text x="530.4" y="1889.8" fill="#f781bf" stroke="#f781bf">8</text>
<text x="563" y="1947" fill="#f781bf" stroke="#f781bf">8</text>
<text x="738.2" y="1949.6" fill="#f781bf" stroke="#f781bf">8</text>
<text x="721.8" y="1978.2" fill="#f781bf" stroke="#f781bf">8</text>
<text x="778.7" y="1997.8" fill="#f781bf" stroke="#f781bf">8</text>
<text x="648.5" y="2049" fill="#f781bf" stroke="#f781bf">8</text>
<text x="676.8" y="2038.2" fill="#f781bf" stroke="#f781bf">8</text>
<text x="703.8" y="2077" fill="#f781bf" stroke="#f781bf">8</text>
<text x="760.7" y="2044.3" fill="#f781bf" stroke="#f781bf">8</text>
<text x="797.5" y="2041.2" fill="#f781bf" stroke="#f781bf">8</text>
<text x="471.7" y="2163.6" fill="#a65628" stroke="#a65628">7</text>
<text x="539.6" y="2147.6" fill="#a65628" stroke="#a65628">7</text>
<text x="525.9" y="2183.5" fill="#a65628" stroke="#a65628">7</text>
<text x="517.7" y="2207.6" fill="#a65628" stroke="#a65628">7</text>
</g>
<rect x="205.5" y="1246.5" width="708.9" height="1006.8" fill="none" stroke="#000" stroke-width="4.8"/>
<g stroke="#000" stroke-width="4.8">
<line x1="362.3" y1="2255.7" x2="362.3" y2="2271.7"/>
<line x1="581.4" y1="2255.7" x2="581.4" y2="2271.7"/>
<line x1="800.5" y1="2255.7" x2="800.5" y2="2271.7"/>
<line x1="187.1" y1="1360.3" x2="203.1" y2="1360.3"/>
<line x1="187.1" y1="1482" x2="203.1" y2="1482"/>
<line x1="187.1" y1="1603.8" x2="203.1" y2="1603.8"/>
<line x1="187.1" y1="1725.5" x2="203.1" y2="1725.5"/>
<line x1="187.1" y1="1847.3" x2="203.1" y2="1847.3"/>
<line x1="187.1" y1="1969" x2="203.1" y2="1969"/>
<line x1="187.1" y1="2090.8" x2="203.1" y2="2090.8"/>
<line x1="187.1" y1="2212.6" x2="203.1" y2="2212.6"/>
</g>
<g font-family='"DejaVu Sans", "Liberation Sans", sans-serif' font-size="50" fill="#000" stroke="#000" stroke-width="0.5">
<text x="362.3" y="2326.6" text-anchor="middle">−50</text>
<text x="581.4" y="2326.6" text-anchor="middle">0</text>
<text x="800.5" y="2326.6" text-anchor="middle">50</text>
<text x="169.9" y="1378.9" text-anchor="end">75</text>
<text x="169.9" y="1500.6" text-anchor="end">50</text>
<text x="169.9" y="1622.4" text-anchor="end">25</text>
<text x="169.9" y="1744.1" text-anchor="end">0</text>
<text x="169.9" y="1865.9" text-anchor="end">−25</text>
<text x="169.9" y="1987.6" text-anchor="end">−50</text>
<text x="169.9" y="2109.4" text-anchor="end">−75</text>
<text x="169.9" y="2231.2" text-anchor="end">−100</text>
</g>
<text x="560" y="2397.6" text-anchor="middle" font-family='"Liberation Serif", "DejaVu Serif", serif' font-weight="bold" font-size="58.3">(c)</text>
<g>
<circle cx="1538" cy="1293.1" r="18" fill="#31688e"/>
<circle cx="1535.9" cy="1301.7" r="18" fill="#3e4989"/>
<circle cx="1612.7" cy="1346.3" r="18" fill="#482878"/>
<circle cx="1632.1" cy="1341.2" r="18" fill="#482878"/>
<circle cx="1648.5" cy="1329.9" r="18" fill="#482878"/>
<circle cx="1577.9" cy="1387.6" r="18" fill="#482878"/>
<circle cx="1570.7" cy="1444.9" r="18" fill="#482878"/>
<circle cx="1596.3" cy="1440.4" r="18" fill="#482878"/>
<circle cx="1624" cy="1438.4" r="18" fill="#482878"/>
<circle cx="1615.8" cy="1494.7" r="18" fill="#482878"/>
<circle cx="1602.5" cy="1390.3" r="18" fill="#31688e"/>
<circle cx="1675.1" cy="1359.6" r="18" fill="#31688e"/>
<circle cx="1689.4" cy="1387.2" r="18" fill="#31688e"/>
<circle cx="1644.4" cy="1395.4" r="18" fill="#31688e"/>
<circle cx="1660.8" cy="1381.1" r="18" fill="#31688e"/>
<circle cx="1637.2" cy="1439.4" r="18" fill="#31688e"/>
<circle cx="1664.9" cy="1441.5" r="18" fill="#31688e"/>
<circle cx="1633" cy="1581.3" r="18" fill="#31688e"/>
<circle cx="1658.3" cy="1528.4" r="18" fill="#3e4989"/>
<circle cx="1689.4" cy="1571.4" r="18" fill="#3e4989"/>
<circle cx="1722.2" cy="1575.5" r="18" fill="#3e4989"/>
<circle cx="1691" cy="1588" r="18" fill="#3e4989"/>
<circle cx="1733.8" cy="1635.3" r="18" fill="#3e4989"/>
<circle cx="1669.5" cy="1641" r="18" fill="#3e4989"/>
<circle cx="1699.4" cy="1647.7" r="18" fill="#3e4989"/>
<circle cx="1677.1" cy="1657" r="18" fill="#3e4989"/>
<circle cx="1291.9" cy="1522.7" r="18" fill="#1f9e89"/>
<circle cx="1315.5" cy="1520.9" r="18" fill="#1f9e89"/>
<circle cx="1372.8" cy="1554.6" r="18" fill="#1f9e89"/>
<circle cx="1341.9" cy="1573.7" r="18" fill="#1f9e89"/>
<circle cx="1325.5" cy="1596.4" r="18" fill="#1f9e89"/>
<circle cx="1256.4" cy="1596.4" r="18" fill="#1f9e89"/>
<circle cx="1279.1" cy="1582.8" r="18" fill="#1f9e89"/>
<circle cx="1285.5" cy="1594.6" r="18" fill="#1f9e89"/>
<circle cx="1271.9" cy="1636.4" r="18" fill="#1f9e89"/>
<circle cx="1200.6" cy="1687.2" r="18" fill="#1f9e89"/>
<circle cx="1221.8" cy="1675.2" r="18" fill="#1f9e89"/>
<circle cx="1312.8" cy="1685.3" r="18" fill="#1f9e89"/>
<circle cx="1358.1" cy="1668" r="18" fill="#1f9e89"/>
<circle cx="1324.4" cy="1713.3" r="18" fill="#1f9e89"/>
<circle cx="1403.9" cy="1631" r="18" fill="#1f9e89"/>
<circle cx="1427" cy="1562.9" r="18" fill="#1f9e89"/>
<circle cx="1385.6" cy="1592" r="18" fill="#b5de2b"/>
<circle cx="1418.5" cy="1610.4" r="18" fill="#b5de2b"/>
<circle cx="1434.7" cy="1583.5" r="18" fill="#b5de2b"/>
<circle cx="1449.4" cy="1595.6" r="18" fill="#b5de2b"/>
<circle cx="1478.7" cy="1614.3" r="18" fill="#b5de2b"/>
<circle cx="1436.1" cy="1639" r="18" fill="#b5de2b"/>
<circle cx="1464" cy="1643.5" r="18" fill="#b5de2b"/>
<circle cx="1423.5" cy="1672.7" r="18" fill="#b5de2b"/>
<circle cx="1133.1" cy="1726" r="18" fill="#26828e"/>
<circle cx="1113.7" cy="1743.4" r="18" fill="#26828e"/>
<circle cx="1153.6" cy="1748.5" r="18" fill="#26828e"/>
<circle cx="1112.7" cy="1775.1" r="18" fill="#26828e"/>
<circle cx="1129" cy="1762.8" r="18" fill="#26828e"/>
<circle cx="1181.2" cy="1775.1" r="18" fill="#26828e"/>
<circle cx="1186.3" cy="1776.1" r="18" fill="#26828e"/>
<circle cx="1208.9" cy="1788.4" r="18" fill="#26828e"/>
<circle cx="1089.7" cy="1811.9" r="18" fill="#26828e"/>
<circle cx="1122.9" cy="1816.4" r="18" fill="#26828e"/>
<circle cx="1148.5" cy="1805.8" r="18" fill="#26828e"/>
<circle cx="1167.9" cy="1823.8" r="18" fill="#26828e"/>
<circle cx="1191.1" cy="1823.2" r="18" fill="#26828e"/>
<circle cx="1148.5" cy="1844.3" r="18" fill="#26828e"/>
<circle cx="1133.1" cy="1868.2" r="18" fill="#26828e"/>
<circle cx="1385.5" cy="1801.7" r="18" fill="#fde725"/>
<circle cx="1281.5" cy="1862.1" r="18" fill="#fde725"/>
<circle cx="1274.4" cy="1875.4" r="18" fill="#fde725"/>
<circle cx="1364" cy="1861.5" r="18" fill="#fde725"/>
<circle cx="1340.6" cy="1915.3" r="18" fill="#fde725"/>
<circle cx="1408.5" cy="1840" r="18" fill="#fde725"/>
<circle cx="1407.5" cy="1917.5" r="18" fill="#fde725"/>
<circle cx="1167.5" cy="1970" r="18" fill="#fde725"/>
<circle cx="1424.2" cy="1959.8" r="18" fill="#fde725"/>
<circle cx="1426" cy="1969.6" r="18" fill="#fde725"/>
<circle cx="1351" cy="2012.5" r="18" fill="#fde725"/>
<circle cx="1361.3" cy="2036.7" r="18" fill="#fde725"/>
<circle cx="1641.6" cy="1706.5" r="18" fill="#440154"/>
<circle cx="1641" cy="1724.5" r="18" fill="#440154"/>
<circle cx="1645.9" cy="1743" r="18" fill="#440154"/>
<circle cx="1658.2" cy="1729.4" r="18" fill="#440154"/>
<circle cx="1675" cy="1724.5" r="18" fill="#440154"/>
<circle cx="1700.9" cy="1741.2" r="18" fill="#440154"/>
<circle cx="1679.2" cy="1766.5" r="18" fill="#440154"/>
<circle cx="1660.8" cy="1761.6" r="18" fill="#440154"/>
<circle cx="1363.1" cy="2087.9" r="18" fill="#6ece58"/>
<circle cx="1353.9" cy="2156.2" r="18" fill="#6ece58"/>
<circle cx="1369.9" cy="2144.6" r="18" fill="#6ece58"/>
<circle cx="1372.5" cy="2156.4" r="18" fill="#6ece58"/>
<circle cx="1706" cy="2021.5" r="18" fill="#35b779"/>
<circle cx="1700" cy="2206.9" r="18" fill="#35b779"/>
<circle cx="1685.3" cy="2149.5" r="18" fill="#35b779"/>
<circle cx="1679.3" cy="2162.8" r="18" fill="#35b779"/>
<circle cx="1673.4" cy="2170.9" r="18" fill="#35b779"/>
<circle cx="1686" cy="2174.6" r="18" fill="#35b779"/>
</g>
<g font-family='"DejaVu Sans", "Liberation Sans", sans-serif' font-size="50" stroke-width="1" stroke-linejoin="round">
<text x="1538" y="1293.1" fill="#984ea3" stroke="#984ea3">4</text>
<text x="1535.9" y="1301.7" fill="#4daf4a" stroke="#4daf4a">3</text>
<text x="1612.7" y="1346.3" fill="#377eb8" stroke="#377eb8">2</text>
<text x="1632.1" y="1341.2" fill="#377eb8" stroke="#377eb8">2</text>
<text x="1648.5" y="1329.9" fill="#377eb8" stroke="#377eb8">2</text>
<text x="1577.9" y="1387.6" fill="#377eb8" stroke="#377eb8">2</text>
<text x="1570.7" y="1444.9" fill="#377eb8" stroke="#377eb8">2</text>
<text x="1596.3" y="1440.4" fill="#377eb8" stroke="#377eb8">2</text>
<text x="1624" y="1438.4" fill="#377eb8" stroke="#377eb8">2</text>
<text x="1615.8" y="1494.7" fill="#377eb8" stroke="#377eb8">2</text>
<text x="1602.5" y="1390.3" fill="#984ea3" stroke="#984ea3">4</text>
<text x="1675.1" y="1359.6" fill="#984ea3" stroke="#984ea3">4</text>
<text x="1689.4" y="1387.2" fill="#984ea3" stroke="#984ea3">4</text>
<text x="1644.4" y="1395.4" fill="#984ea3" stroke="#984ea3">4</text>
<text x="1660.8" y="1381.1" fill="#984ea3" stroke="#984ea3">4</text>
<text x="1637.2" y="1439.4" fill="#984ea3" stroke="#984ea3">4</text>
<text x="1664.9" y="1441.5" fill="#984ea3" stroke="#984ea3">4</text>
<text x="1633" y="1581.3" fill="#984ea3" stroke="#984ea3">4</text>
<text x="1658.3" y="1528.4" fill="#4daf4a" stroke="#4daf4a">3</text>
<text x="1689.4" y="1571.4" fill="#4daf4a" stroke="#4daf4a">3</text>
<text x="1722.2" y="1575.5" fill="#4daf4a" stroke="#4daf4a">3</text>
<text x="1691" y="1588" fill="#4daf4a" stroke="#4daf4a">3</text>
<text x="1733.8" y="1635.3" fill="#4daf4a" stroke="#4daf4a">3</text>
<text x="1669.5" y="1641" fill="#4daf4a" stroke="#4daf4a">3</text>
<text x="1699.4" y="1647.7" fill="#4daf4a" stroke="#4daf4a">3</text>
<text x="1677.1" y="1657" fill="#4daf4a" stroke="#4daf4a">3</text>
<text x="1291.9" y="1522.7" fill="#ffff33" stroke="#ffff33">6</text>
<text x="1315.5" y="1520.9" fill="#ffff33" stroke="#ffff33">6</text>
<text x="1372.8" y="1554.6" fill="#ffff33" stroke="#ffff33">6</text>
<text x="1341.9" y="1573.7" fill="#ffff33" stroke="#ffff33">6</text>
<text x="1325.5" y="1596.4" fill="#ffff33" stroke="#ffff33">6</text>
<text x="1256.4" y="1596.4" fill="#ffff33" stroke="#ffff33">6</text>
<text x="1279.1" y="1582.8" fill="#ffff33" stroke="#ffff33">6</text>
<text x="1285.5" y="1594.6" fill="#ffff33" stroke="#ffff33">6</text>
<text x="1271.9" y="1636.4" fill="#ffff33" stroke="#ffff33">6</text>
<text x="1200.6" y="1687.2" fill="#ffff33" stroke="#ffff33">6</text>
<text x="1221.8" y="1675.2" fill="#ffff33" stroke="#ffff33">6</text>
<text x="1312.8" y="1685.3" fill="#ffff33" stroke="#ffff33">6</text>
<text x="1358.1" y="1668" fill="#ffff33" stroke="#ffff33">6</text>
<text x="1324.4" y="1713.3" fill="#ffff33" stroke="#ffff33">6</text>
<text x="1403.9" y="1631" fill="#ffff33" stroke="#ffff33">6</text>
<text x="1427" y="1562.9" fill="#ffff33" stroke="#ffff33">6</text>
<text x="1385.6" y="1592" fill="#999999" stroke="#999999">9</text>
<text x="1418.5" y="1610.4" fill="#999999" stroke="#999999">9</text>
<text x="1434.7" y="1583.5" fill="#999999" stroke="#999999">9</text>
<text x="1449.4" y="1595.6" fill="#999999" stroke="#999999">9</text>
<text x="1478.7" y="1614.3" fill="#999999" stroke="#999999">9</text>
<text x="1436.1" y="1639" fill="#999999" stroke="#999999">9</text>
<text x="1464" y="1643.5" fill="#999999" stroke="#999999">9</text>
<text x="1423.5" y="1672.7" fill="#999999" stroke="#999999">9</text>
<text x="1133.1" y="1726" fill="#ff7f00" stroke="#ff7f00">5</text>
<text x="1113.7" y="1743.4" fill="#ff7f00" stroke="#ff7f00">5</text>
<text x="1153.6" y="1748.5" fill="#ff7f00" stroke="#ff7f00">5</text>
<text x="1112.7" y="1775.1" fill="#ff7f00" stroke="#ff7f00">5</text>
<text x="1129" y="1762.8" fill="#ff7f00" stroke="#ff7f00">5</text>
<text x="1181.2" y="1775.1" fill="#ff7f00" stroke="#ff7f00">5</text>
<text x="1186.3" y="1776.1" fill="#ff7f00" stroke="#ff7f00">5</text>
<text x="1208.9" y="1788.4" fill="#ff7f00" stroke="#ff7f00">5</text>
<text x="1089.7" y="1811.9" fill="#ff7f00" stroke="#ff7f00">5</text>
<text x="1122.9" y="1816.4" fill="#ff7f00" stroke="#ff7f00">5</text>
<text x="1148.5" y="1805.8" fill="#ff7f00" stroke="#ff7f00">5</text>
<text x="1167.9" y="1823.8" fill="#ff7f00" stroke="#ff7f00">5</text>
<text x="1191.1" y="1823.2" fill="#ff7f00" stroke="#ff7f00">5</text>
<text x="1148.5" y="1844.3" fill="#ff7f00" stroke="#ff7f00">5</text>
<text x="1133.1" y="1868.2" fill="#ff7f00" stroke="#ff7f00">5</text>
<text x="1385.5" y="1801.7" fill="#999999" stroke="#999999">10</text>
<text x="1281.5" y="1862.1" fill="#999999" stroke="#999999">10</text>
<text x="1274.4" y="1875.4" fill="#999999" stroke="#999999">10</text>
<text x="1364" y="1861.5" fill="#999999" stroke="#999999">10</text>
<text x="1340.6" y="1915.3" fill="#999999" stroke="#999999">10</text>
<text x="1408.5" y="1840" fill="#999999" stroke="#999999">10</text>
<text x="1407.5" y="1917.5" fill="#999999" stroke="#999999">10</text>
<text x="1167.5" y="1970" fill="#999999" stroke="#999999">10</text>
<text x="1424.2" y="1959.8" fill="#999999" stroke="#999999">10</text>
<text x="1426" y="1969.6" fill="#999999" stroke="#999999">10</text>
<text x="1351" y="2012.5" fill="#999999" stroke="#999999">10</text>
<text x="1361.3" y="2036.7" fill="#999999" stroke="#999999">10</text>
<text x="1641.6" y="1706.5" fill="#e41a1c" stroke="#e41a1c">1</text>
<text x="1641" y="1724.5" fill="#e41a1c" stroke="#e41a1c">1</text>
<text x="1645.9" y="1743" fill="#e41a1c" stroke="#e41a1c">1</text>
<text x="1658.2" y="1729.4" fill="#e41a1c" stroke="#e41a1c">1</text>
<text x="1675" y="1724.5" fill="#e41a1c" stroke="#e41a1c">1</text>
<text x="1700.9" y="1741.2" fill="#e41a1c" stroke="#e41a1c">1</text>
<text x="1679.2" y="1766.5" fill="#e41a1c" stroke="#e41a1c">1</text>
<text x="1660.8" y="1761.6" fill="#e41a1c" stroke="#e41a1c">1</text>
<text x="1363.1" y="2087.9" fill="#f781bf" stroke="#f781bf">8</text>
<text x="1353.9" y="2156.2" fill="#f781bf" stroke="#f781bf">8</text>
<text x="1369.9" y="2144.6" fill="#f781bf" stroke="#f781bf">8</text>
<text x="1372.5" y="2156.4" fill="#f781bf" stroke="#f781bf">8</text>
<text x="1706" y="2021.5" fill="#a65628" stroke="#a65628">7</text>
<text x="1700" y="2206.9" fill="#a65628" stroke="#a65628">7</text>
<text x="1685.3" y="2149.5" fill="#a65628" stroke="#a65628">7</text>
<text x="1679.3" y="2162.8" fill="#a65628" stroke="#a65628">7</text>
<text x="1673.4" y="2170.9" fill="#a65628" stroke="#a65628">7</text>
<text x="1686" y="2174.6" fill="#a65628" stroke="#a65628">7</text>
</g>
<rect x="1056.5" y="1246.5" width="709.1" height="1006.8" fill="none" stroke="#000" stroke-width="4.8"/>
<g stroke="#000" stroke-width="4.8">
<line x1="1189.4" y1="2255.7" x2="1189.4" y2="2271.7"/>
<line x1="1446.7" y1="2255.7" x2="1446.7" y2="2271.7"/>
<line x1="1704" y1="2255.7" x2="1704" y2="2271.7"/>
<line x1="1038.1" y1="1260.4" x2="1054.1" y2="1260.4"/>
<line x1="1038.1" y1="1419.3" x2="1054.1" y2="1419.3"/>
<line x1="1038.1" y1="1578.1" x2="1054.1" y2="1578.1"/>
<line x1="1038.1" y1="1737" x2="1054.1" y2="1737"/>
<line x1="1038.1" y1="1895.9" x2="1054.1" y2="1895.9"/>
<line x1="1038.1" y1="2054.7" x2="1054.1" y2="2054.7"/>
<line x1="1038.1" y1="2213.6" x2="1054.1" y2="2213.6"/>
</g>
<g font-family='"DejaVu Sans", "Liberation Sans", sans-serif' font-size="50" fill="#000" stroke="#000" stroke-width="0.5">
<text x="1189.4" y="2326.6" text-anchor="middle">−10</text>
<text x="1446.7" y="2326.6" text-anchor="middle">−5</text>
<text x="1704" y="2326.6" text-anchor="middle">0</text>
<text x="1020.9" y="1279" text-anchor="end">6</text>
<text x="1020.9" y="1437.9" text-anchor="end">4</text>
<text x="1020.9" y="1596.7" text-anchor="end">2</text>
<text x="1020.9" y="1755.6" text-anchor="end">0</text>
<text x="1020.9" y="1914.5" text-anchor="end">−2</text>
<text x="1020.9" y="2073.3" text-anchor="end">−4</text>
<text x="1020.9" y="2232.2" text-anchor="end">−6</text>
</g>
<text x="1411" y="2397.6" text-anchor="middle" font-family='"Liberation Serif", "DejaVu Serif", serif' font-weight="bold" font-size="58.3">(d)</text>
<rect x="1863.5" y="591.8" width="55.2" height="1107.4" fill="url(#vg)" stroke="#000" stroke-width="4.8"/>
<g stroke="#000" stroke-width="4.8">
<line x1="1921.1" y1="1699.2" x2="1937.1" y2="1699.2"/>
<line x1="1921.1" y1="1576.2" x2="1937.1" y2="1576.2"/>
<line x1="1921.1" y1="1453.1" x2="1937.1" y2="1453.1"/>
<line x1="1921.1" y1="1330.1" x2="1937.1" y2="1330.1"/>
<line x1="1921.1" y1="1207" x2="1937.1" y2="1207"/>
<line x1="1921.1" y1="1084" x2="1937.1" y2="1084"/>
<line x1="1921.1" y1="960.9" x2="1937.1" y2="960.9"/>
<line x1="1921.1" y1="837.9" x2="1937.1" y2="837.9"/>
<line x1="1921.1" y1="714.8" x2="1937.1" y2="714.8"/>
<line x1="1921.1" y1="591.8" x2="1937.1" y2="591.8"/>
</g>
<g font-family='"DejaVu Sans", "Liberation Sans", sans-serif' font-size="50" fill="#000" stroke="#000" stroke-width="0.5">
<text x="1953.5" y="1717.8">1</text>
<text x="1953.5" y="1594.8">2</text>
<text x="1953.5" y="1471.7">3</text>
<text x="1953.5" y="1348.7">4</text>
<text x="1953.5" y="1225.6">5</text>
<text x="1953.5" y="1102.6">6</text>
<text x="1953.5" y="979.5">7</text>
<text x="1953.5" y="856.5">8</text>
<text x="1953.5" y="733.4">9</text>
<text x="1953.5" y="610.4">10</text>
</g>
</svg></body></html>
